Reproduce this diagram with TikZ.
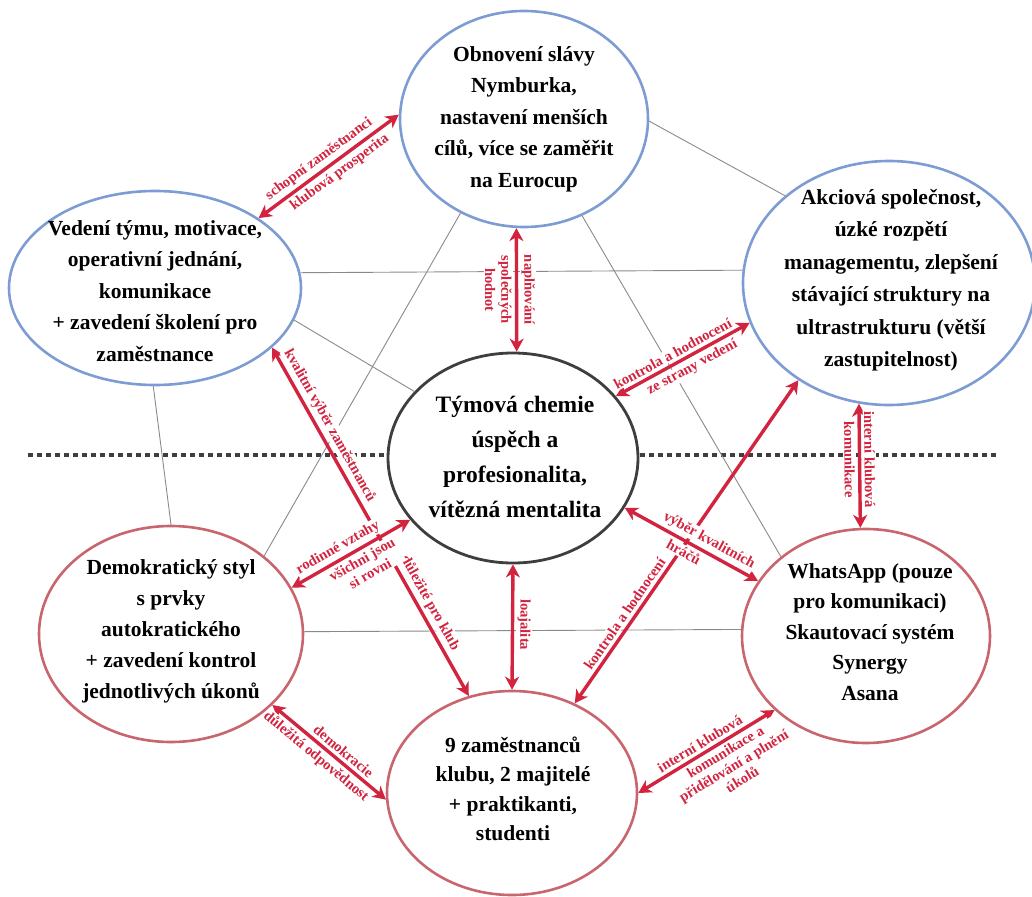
\documentclass[tikz,border=0pt]{standalone}
\usepackage{fontspec}
\setmainfont{Liberation Serif}
\usetikzlibrary{arrows.meta,shapes.geometric}
\definecolor{bblue}{HTML}{7E9CD4}
\definecolor{bred}{HTML}{C9656D}
\definecolor{cgrey}{HTML}{3E3E3E}
\definecolor{ared}{HTML}{D2233F}
\definecolor{lgrey}{HTML}{8A8A8A}
\begin{document}
\begin{tikzpicture}[x=1pt,y=-1pt,
  bub/.style={ellipse, draw=#1, line width=2.6pt, fill=white, inner sep=0pt},
  btxt/.style={align=center, inner sep=0pt, font=\fontsize{21.5}{31.5}\selectfont\bfseries},
  thinline/.style={draw=lgrey, line width=0.9pt},
  dotline/.style={draw=cgrey, line width=4.5pt, dash pattern=on 5pt off 4pt},
  rarr/.style={draw=ared, line width=3.4pt,
    arrows={Stealth[length=13pt,width=14pt,inset=4pt]-Stealth[length=13pt,width=14pt,inset=4pt]}},
  lab/.style={text=ared, fill=white, inner sep=1.2pt, align=center, sloped,
    font=\fontsize{14.6}{16.2}\selectfont\bfseries},
]
\useasboundingbox (0,0) rectangle (1032,896);

% dotted divider, behind the bubbles
\coordinate (dotL) at (28,455);
\coordinate (dotR) at (996,455);
\draw[dotline] (dotL) -- (dotR);

% bubbles
\node[bub=bblue, minimum width=248pt, minimum height=216pt] (top) at (524,119) {};
\node[bub=bblue, minimum width=292pt, minimum height=194pt] (lft) at (155,288) {};
\node[bub=bblue, minimum width=292pt, minimum height=244pt] (rgt) at (889,283) {};
\node[bub=cgrey, minimum width=250pt, minimum height=210pt, line width=2.8pt] (mid) at (513,458) {};
\node[bub=bred, minimum width=264pt, minimum height=216pt] (bl) at (171,634) {};
\node[bub=bred, minimum width=248pt, minimum height=214pt] (br) at (866,636) {};
\node[bub=bred, minimum width=250pt, minimum height=204pt] (bot) at (512,793) {};

% bubble texts
\node[btxt] (topT) at (524,119) {Obnovení slávy\\Nymburka,\\nastavení menších\\cílů, více se zaměřit\\na Eurocup};
\node[btxt] (lftT) at (155,291) {Vedení týmu, motivace,\\operativní jednání,\\komunikace\\+ zavedení školení pro\\zaměstnance};
\node[btxt, font=\fontsize{21.5}{32.5}\selectfont\bfseries] (rgtT) at (891,280) {Akciová společnost,\\úzké rozpětí\\managementu, zlepšení\\stávající struktury na\\ultrastrukturu (větší\\zastupitelnost)};
\node[btxt, font=\fontsize{23.5}{35}\selectfont\bfseries] (midT) at (515,457) {Týmová chemie\\úspěch a\\profesionalita,\\vítězná mentalita};
\node[btxt, font=\fontsize{21.5}{31}\selectfont\bfseries] (blT) at (171,631) {Demokratický styl\\s prvky\\autokratického\\+ zavedení kontrol\\jednotlivých úkonů};
\node[btxt, font=\fontsize{21.5}{30.5}\selectfont\bfseries] (brT) at (870,632) {WhatsApp (pouze\\pro komunikaci)\\Skautovací systém\\Synergy\\Asana};
\node[btxt, font=\fontsize{21.5}{29.5}\selectfont\bfseries] (botT) at (513,789) {9 zaměstnanců\\klubu, 2 majitelé\\+ praktikanti,\\studenti};

% thin links between bubbles
\draw[thinline] (top.359) -- (rgt.140.6);
\draw[thinline] (lft.6.6) -- (rgt.175.7);
\draw[thinline] (lft.347.5) -- (mid.146);
\draw[thinline] (top.236) -- (bl.40.9);
\draw[thinline] (top.301.4) -- (br.137.4);
\draw[thinline] (lft.269) -- (bl.90);
\draw[thinline] (bl.1.3) -- (br.177.7);

% labelled two-way relations
\draw[rarr] (lft.34) -- (top.178)
  node[lab, pos=.48, above=2pt] (lA1) {schopní zaměstnanci}
  node[lab, pos=.53, below=2pt] (lA2) {klubová prosperita};
\draw[rarr] (top.266) -- (mid.88)
  node[lab, allow upside down, pos=.5, above=2pt] (lB1) {naplňování}
  node[lab, allow upside down, pos=.5, below=2pt] (lB2) {společných\\hodnot};
\draw[rarr] (mid.31) -- (rgt.196)
  node[lab, pos=.46, above=2pt] (lC1) {kontrola a hodnocení}
  node[lab, pos=.53, below=2pt] (lC2) {ze strany vedení};
\draw[rarr] (lft.333.4) -- (bot.114.3)
  node[lab, pos=.24, above=2pt] (lD1) {kvalitní výběr zaměstnanců}
  node[lab, pos=.75, above=2pt] (lD2) {důležité pro klub};
\draw[rarr] (bl.21.4) -- (mid.211)
  node[lab, pos=.44, above=2pt] (lE1) {rodinné vztahy}
  node[lab, pos=.55, below=2pt] (lE2) {všichni jsou\\si rovni};
\draw[rarr] (mid.270) -- (bot.90)
  node[lab, allow upside down, pos=.48, above=2pt] (lF) {loajalita};
\draw[rarr] (bot.55.7) -- (rgt.227.7)
  node[lab, pos=.26, above=2pt] (lG) {kontrola a hodnocení};
\draw[rarr] (mid.336.8) -- (br.153.9)
  node[lab, pos=.59, above=2pt] (lH1) {výběr kvalitních}
  node[lab, pos=.48, below=2pt] (lH2) {hráčů};
\draw[rarr] (rgt.256.6) -- (br.93.2)
  node[lab, allow upside down, pos=.45, above=2pt] (lI1) {interní klubová}
  node[lab, allow upside down, pos=.45, below=2pt] (lI2) {komunikace};
\draw[rarr] (bl.325.3) -- (bot.183)
  node[lab, pos=.57, above=2pt] (lJ1) {demokracie}
  node[lab, pos=.45, below=2pt] (lJ2) {důležitá odpovědnost};
\draw[rarr] (bot.0) -- (br.219.7)
  node[lab, pos=.49, above=2pt] (lK1) {interní klubová}
  node[lab, pos=.6, below=2pt] (lK2) {komunikace a\\přidělování a plnění\\úkolů};
\end{tikzpicture}
\end{document}
